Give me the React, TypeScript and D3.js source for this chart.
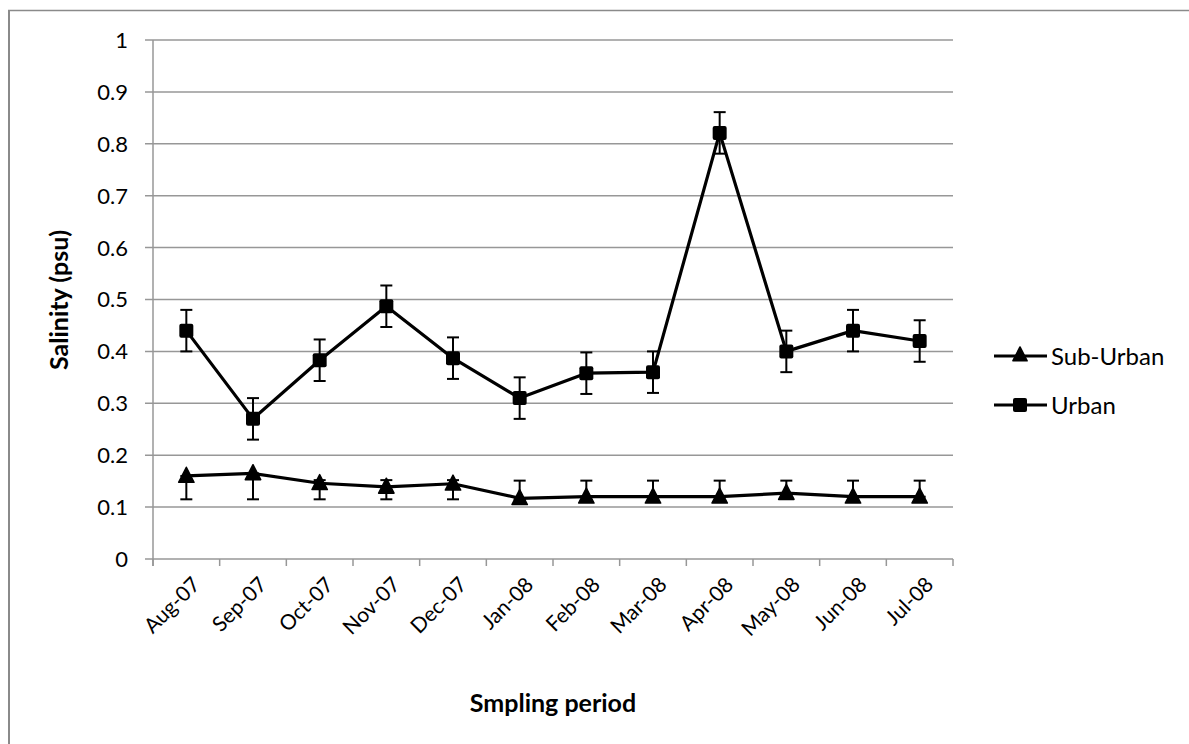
import React from "react";
import * as d3 from "d3";

const categories = ["Aug-07", "Sep-07", "Oct-07", "Nov-07", "Dec-07", "Jan-08", "Feb-08", "Mar-08", "Apr-08", "May-08", "Jun-08", "Jul-08"];
const yTicks = [0, 0.1, 0.2, 0.3, 0.4, 0.5, 0.6, 0.7, 0.8, 0.9, 1];
const yTickLabels = ["0", "0.1", "0.2", "0.3", "0.4", "0.5", "0.6", "0.7", "0.8", "0.9", "1"];

const urban = [0.44, 0.27, 0.383, 0.487, 0.387, 0.31, 0.358, 0.36, 0.821, 0.4, 0.44, 0.42];
const urbanErr = [0.04, 0.04, 0.04, 0.04, 0.04, 0.04, 0.04, 0.04, 0.04, 0.04, 0.04, 0.04];

const subUrban = [0.16, 0.165, 0.146, 0.139, 0.145, 0.117, 0.12, 0.12, 0.12, 0.127, 0.12, 0.12];
const subUrbanLow = [0.115, 0.115, 0.115, 0.115, 0.115, 0.115, 0.12, 0.12, 0.12, 0.127, 0.12, 0.12];
const subUrbanHigh = [0.16, 0.165, 0.152, 0.152, 0.152, 0.151, 0.151, 0.151, 0.151, 0.151, 0.151, 0.151];

const seriesNames = ["Sub-Urban", "Urban"];

const FONT = "Lato, 'Open Sans', sans-serif";

export default function App() {
  const x = d3.scaleBand().domain(categories).range([153, 953]);
  const y = d3.scaleLinear().domain([0, 1]).range([559, 40]);
  const cx = (c: string) => (x(c) as number) + x.bandwidth() / 2;
  const line = d3.line<number>().x((_, i) => cx(categories[i])).y((v) => y(v));
  const grid = "#979797";
  const tri = (px: number, py: number, s: number) =>
    `M${px},${py - s * 0.62} L${px + s * 0.55},${py + s * 0.45} L${px - s * 0.55},${py + s * 0.45} Z`;

  const errBar = (px: number, lo: number, hi: number, key: string) => (
    <g key={key} stroke="#000" strokeWidth={2}>
      <line x1={px} x2={px} y1={y(lo)} y2={y(hi)} />
      <line x1={px - 6} x2={px + 6} y1={y(lo)} y2={y(lo)} />
      <line x1={px - 6} x2={px + 6} y1={y(hi)} y2={y(hi)} />
    </g>
  );

  return (
    <svg
      width={1189}
      height={744}
      style={{ position: "absolute", left: 0, top: 0, background: "#fff" }}
      fontFamily={FONT}
    >
      {/* outer chart border */}
      <line x1={9} x2={9} y1={10} y2={744} stroke="#8a8a8a" strokeWidth={2} />
      <line x1={8} x2={1189} y1={10.5} y2={10.5} stroke="#8a8a8a" strokeWidth={1.5} />

      {/* gridlines + y ticks */}
      {yTicks.map((t, i) => (
        <g key={"g" + i}>
          <line x1={145} x2={953} y1={y(t)} y2={y(t)} stroke={grid} strokeWidth={1.5} />
          <text x={128} y={y(t)} dy="0.36em" textAnchor="end" fontSize={22} fill="#000">
            {yTickLabels[i]}
          </text>
        </g>
      ))}
      {/* y axis line */}
      <line x1={153} x2={153} y1={40} y2={566} stroke={grid} strokeWidth={1.5} />
      {/* x ticks */}
      {categories.map((c, i) => (
        <line key={"xt" + i} x1={x(c) as number} x2={x(c) as number} y1={559} y2={566} stroke={grid} strokeWidth={1.5} />
      ))}
      <line x1={953} x2={953} y1={559} y2={566} stroke={grid} strokeWidth={1.5} />

      {/* x labels */}
      {categories.map((c, i) => {
        const px = cx(c) + 15;
        const py = 586;
        return (
          <text
            key={"xl" + i}
            x={px}
            y={py}
            textAnchor="end"
            fontSize={21}
            transform={`rotate(-45 ${px} ${py})`}
            fill="#000"
          >
            {c}
          </text>
        );
      })}

      {/* error bars */}
      {subUrban.map((_, i) => errBar(cx(categories[i]), subUrbanLow[i], subUrbanHigh[i], "se" + i))}
      {urban.map((v, i) => errBar(cx(categories[i]), v - urbanErr[i], v + urbanErr[i], "ue" + i))}

      {/* lines */}
      <path d={line(subUrban) || ""} fill="none" stroke="#000" strokeWidth={3.2} strokeLinejoin="round" />
      <path d={line(urban) || ""} fill="none" stroke="#000" strokeWidth={3.2} strokeLinejoin="round" />

      {/* markers */}
      {subUrban.map((v, i) => (
        <path key={"sm" + i} d={tri(cx(categories[i]), y(v), 14)} fill="#000" stroke="#000" strokeWidth={1.5} strokeLinejoin="round" />
      ))}
      {urban.map((v, i) => (
        <rect key={"um" + i} x={cx(categories[i]) - 7} y={y(v) - 7} width={14} height={14} rx={2} fill="#000" />
      ))}

      {/* axis titles */}
      <text
        x={68}
        y={300}
        transform="rotate(-90 68 300)"
        textAnchor="middle"
        fontWeight="bold"
        fontSize={25}
        fill="#000"
      >
        Salinity (psu)
      </text>
      <text x={553} y={712} textAnchor="middle" fontWeight="bold" fontSize={25} fill="#000">
        Smpling period
      </text>

      {/* legend */}
      {seriesNames.map((s, i) => {
        const ly = 356 + i * 49;
        return (
          <g key={"lg" + i}>
            <line x1={994} x2={1047} y1={ly} y2={ly} stroke="#000" strokeWidth={3.2} />
            {i === 0 ? (
              <path d={tri(1020, ly - 1, 13)} fill="#000" stroke="#000" strokeWidth={1.5} strokeLinejoin="round" />
            ) : (
              <rect x={1013} y={ly - 7} width={14} height={14} rx={2} fill="#000" />
            )}
            <text x={1051} y={ly} dy="0.36em" fontSize={24} fill="#000">
              {s}
            </text>
          </g>
        );
      })}
    </svg>
  );
}
